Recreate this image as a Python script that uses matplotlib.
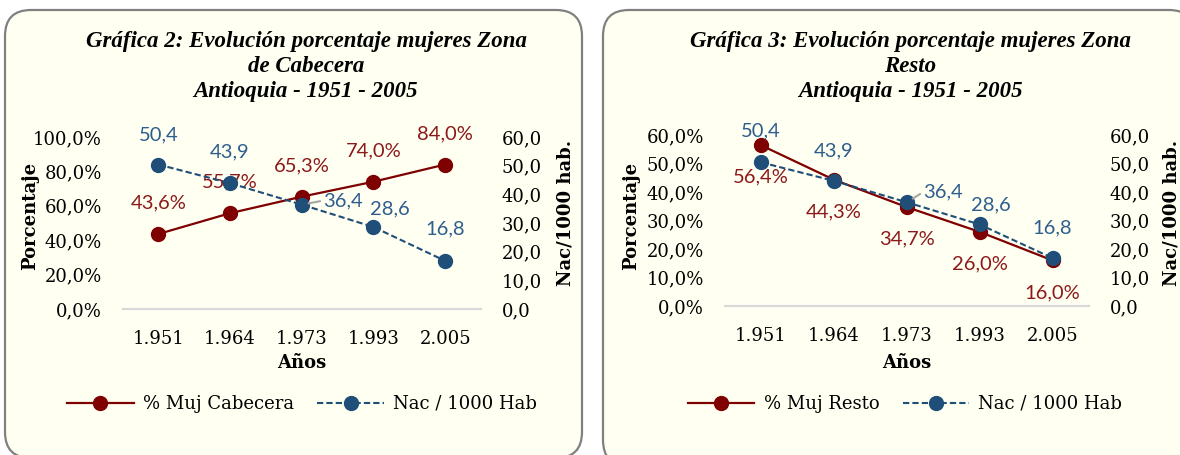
import matplotlib
matplotlib.use("Agg")
import matplotlib.pyplot as plt
from matplotlib.patches import FancyBboxPatch
from matplotlib.lines import Line2D
from matplotlib.ticker import FuncFormatter

# ----------------------------------------
# DATA
# ----------------------------------------
years = ["1.951", "1.964", "1.973", "1.993", "2.005"]
pct_cabecera = [43.6, 55.7, 65.3, 74.0, 84.0]
pct_resto = [56.4, 44.3, 34.7, 26.0, 16.0]
nac_1000 = [50.4, 43.9, 36.4, 28.6, 16.8]

titles_cabecera = ["Gráfica 2: Evolución porcentaje mujeres Zona", "de Cabecera", "Antioquia - 1951 - 2005"]
titles_resto = ["Gráfica 3: Evolución porcentaje mujeres Zona", "Resto", "Antioquia - 1951 - 2005"]

legend_cabecera = ["% Muj Cabecera", "Nac / 1000 Hab"]
legend_resto = ["% Muj Resto", "Nac / 1000 Hab"]

# ----------------------------------------
# STYLE
# ----------------------------------------
W, H = 1180, 455
RED = "#7F0000"
RED_TXT = "#8C1A1A"
BLUE = "#1F4E79"
BLUE_TXT = "#2E5E8E"
CREAM = "#FFFFF2"
SERIF = "DejaVu Serif"
TITLE_FONT = "Liberation Serif"
LABEL_FONT = "Lato"

plt.rcParams["font.family"] = [SERIF, "DejaVu Sans"]


def px_rect(x0, y0, x1, y1):
    return [x0 / W, 1 - y1 / H, (x1 - x0) / W, (y1 - y0) / H]


def pct_fmt(v, pos):
    return f"{v:.1f}%".replace(".", ",")


def num_fmt(v, pos):
    return f"{v:.1f}".replace(".", ",")


fig = plt.figure(figsize=(W / 100, H / 100), dpi=100, facecolor="white")

# background with the two rounded boxes (pixel units)
bg = fig.add_axes([0, 0, 1, 1], zorder=-1)
bg.set_xlim(0, W)
bg.set_ylim(H, 0)
bg.axis("off")
for (bx0, by0, bx1, by1) in [(5, 10, 582, 458), (603, 10, 1195, 466)]:
    bg.add_patch(FancyBboxPatch(
        (bx0, by0), bx1 - bx0, by1 - by0,
        boxstyle="round,pad=0,rounding_size=26",
        facecolor=CREAM, edgecolor="#808080", linewidth=1.6
    ))


def draw_panel(rect, pct, pct_top, pct_step, pct_offsets, nac_offsets,
               titles, title_x, legend_labels, legend_x, side_px):
    ax = fig.add_axes(px_rect(*rect))
    ax.patch.set_alpha(0)
    x = list(range(len(years)))

    ax.plot(x, pct, color=RED, lw=1.6, marker="o", ms=10, zorder=3)
    ax.set_xlim(-0.5, len(years) - 0.5)
    ax.set_ylim(0, pct_top)
    ax.set_yticks([i * pct_step for i in range(int(pct_top / pct_step) + 1)])
    ax.yaxis.set_major_formatter(FuncFormatter(pct_fmt))
    ax.set_xticks(x)
    ax.set_xticklabels(years)
    ax.tick_params(length=0, labelsize=13, colors="black")
    ax.tick_params(axis="y", pad=15)
    ax.tick_params(axis="x", pad=15)
    for s in ["top", "left", "right"]:
        ax.spines[s].set_visible(False)
    ax.spines["bottom"].set_color("#D9D9D9")
    ax.spines["bottom"].set_linewidth(1.6)

    for xi, v, off in zip(x, pct, pct_offsets):
        ax.annotate(f"{v:.1f}%".replace(".", ","), (xi, v), xytext=off,
                    textcoords="offset pixels", ha="center", va="center",
                    color=RED_TXT, fontsize=14.5, family=LABEL_FONT)

    ax2 = ax.twinx()
    ax2.plot(x, nac_1000, color=BLUE, lw=1.5, ls=(0, (3, 1.5)),
             marker="o", ms=10, zorder=3)
    ax2.set_ylim(0, 60)
    ax2.set_yticks(range(0, 61, 10))
    ax2.yaxis.set_major_formatter(FuncFormatter(num_fmt))
    ax2.tick_params(length=0, labelsize=13, pad=15)
    for s in ax2.spines.values():
        s.set_visible(False)

    for i, (xi, v, off) in enumerate(zip(x, nac_1000, nac_offsets)):
        kw = {}
        if i == 2:
            kw["arrowprops"] = dict(arrowstyle="-", color="#A6A6A6", lw=1.5,
                                    shrinkA=0, shrinkB=5, relpos=(0, 0.5))
        ax2.annotate(f"{v:.1f}".replace(".", ","), (xi, v), xytext=off,
                     textcoords="offset pixels", ha="center", va="center",
                     color=BLUE_TXT, fontsize=14.5, family=LABEL_FONT, **kw)

    # titles
    for line, ty in zip(titles, [42, 67, 92]):
        fig.text(title_x / W, 1 - ty / H, line, ha="center", va="center",
                 fontsize=16.5, fontweight="bold", fontstyle="italic",
                 family=TITLE_FONT)

    # axis labels
    x0, y0, x1, y1 = rect
    fig.text(side_px[0] / W, 1 - 216 / H, "Porcentaje", rotation=90,
             ha="center", va="center", fontsize=13, fontweight="bold")
    fig.text(side_px[1] / W, 1 - 213 / H, "Nac/1000 hab.", rotation=90,
             ha="center", va="center", fontsize=13, fontweight="bold")
    fig.text((x0 + x1) / 2 / W, 1 - 363 / H, "Años", ha="center",
             va="center", fontsize=13, fontweight="bold")

    handles = [
        Line2D([], [], color=RED, lw=1.6, marker="o", ms=10),
        Line2D([], [], color=BLUE, lw=1.5, ls=(0, (3, 1.5)), marker="o", ms=10),
    ]
    fig.legend(handles, legend_labels, loc="center",
               bbox_to_anchor=(legend_x / W, 1 - 404 / H), ncol=2,
               frameon=False, fontsize=13, handlelength=3.7,
               handletextpad=0.5, columnspacing=1.3)


draw_panel(
    rect=(122.5, 137, 481, 309), pct=pct_cabecera, pct_top=100, pct_step=20,
    pct_offsets=[(0, 31)] * 5,
    nac_offsets=[(0, 30), (0, 31), (41, 4), (16, 18), (0, 32)],
    titles=titles_cabecera, title_x=306, legend_labels=legend_cabecera,
    legend_x=302, side_px=(30, 565),
)

draw_panel(
    rect=(724.6, 135, 1089, 306), pct=pct_resto, pct_top=60, pct_step=10,
    pct_offsets=[(0, -32)] * 5,
    nac_offsets=[(0, 31), (0, 30), (36, 10), (11, 20), (0, 30)],
    titles=titles_resto, title_x=910, legend_labels=legend_resto,
    legend_x=905, side_px=(631, 1172),
)

fig.savefig("out.png", dpi=100, facecolor="white")
